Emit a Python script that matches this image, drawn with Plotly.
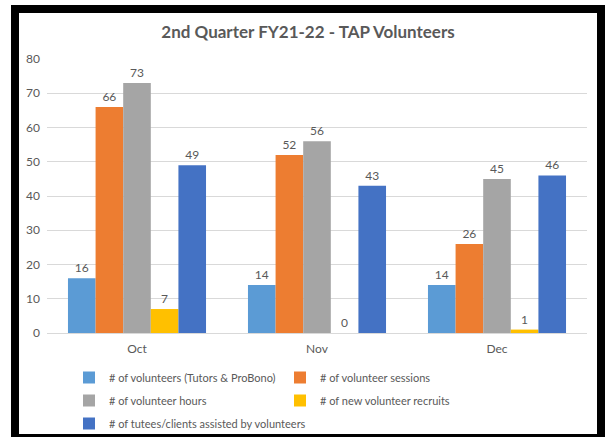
import plotly.graph_objects as go

months = ["Oct", "Nov", "Dec"]
series_names = [
    "# of volunteers (Tutors & ProBono)",
    "# of volunteer sessions",
    "# of volunteer hours",
    "# of new volunteer recruits",
    "# of tutees/clients assisted by volunteers",
]
volunteers = [16, 14, 14]
sessions = [66, 52, 26]
hours = [73, 56, 45]
recruits = [7, 0, 1]
tutees = [49, 43, 46]
colors = ["#5B9BD5", "#ED7D31", "#A5A5A5", "#FFC000", "#4472C4"]
legend_ids = ["legend", "legend2", "legend", "legend2", "legend"]

series_values = [volunteers, sessions, hours, recruits, tutees]

W, H = 608, 437
L, R, T, B = 47, 21, 59, 104
pw, ph = W - L - R, H - T - B


def px_x(p):
    return (p - L) / pw


def px_y(p):
    return (H - B - p) / ph


font_family = "Lato, Carlito, Calibri, sans-serif"
txt_color = "#595959"

fig = go.Figure()
for i, (name, vals, c, lg) in enumerate(zip(series_names, series_values, colors, legend_ids)):
    fig.add_trace(go.Bar(
        x=months, y=vals, name=name, marker_color=c, marker_line_width=0,
        text=[str(v) for v in vals], textposition="outside",
        textfont=dict(size=12, color=txt_color, family=font_family),
        cliponaxis=False, legend=lg, legendgroup="g%d" % i,
    ))

legend_common = dict(orientation="v", yanchor="top", xanchor="left",
                     font=dict(size=11, color=txt_color, family=font_family),
                     bgcolor="rgba(0,0,0,0)", itemwidth=30, tracegroupgap=4,
                     borderwidth=0)

fig.update_layout(
    width=W, height=H,
    margin=dict(l=L, r=R, t=T, b=B, autoexpand=False),
    paper_bgcolor="white", plot_bgcolor="white",
    barmode="group", bargap=0.233, bargroupgap=0,
    title=dict(text="<b>2nd Quarter FY21-22 - TAP Volunteers</b>",
               x=px_x(308), xref="paper", xanchor="center",
               y=1 - 32 / H, yanchor="middle",
               font=dict(size=17, color=txt_color, family=font_family)),
    font=dict(family=font_family, size=12, color=txt_color),
    showlegend=True,
    legend=dict(x=px_x(69), y=px_y(363), **legend_common),
    legend2=dict(x=px_x(280), y=px_y(363), **legend_common),
    xaxis=dict(showgrid=False, showline=True, linecolor="#D9D9D9", linewidth=1,
               ticks="", ticklabelstandoff=5,
               tickfont=dict(size=12, color=txt_color)),
    yaxis=dict(range=[0, 80], dtick=10, showgrid=True, gridcolor="#D9D9D9",
               gridwidth=1, zeroline=False, showline=False, ticks="",
               ticklabelstandoff=6,
               tickfont=dict(size=12, color=txt_color)),
)

fig.add_shape(type="rect", xref="paper", yref="paper",
              x0=px_x(15), x1=px_x(601), y0=px_y(438), y1=px_y(9),
              line=dict(color="black", width=8), fillcolor="rgba(0,0,0,0)",
              layer="above")

fig.write_html("out.html",
               config={"displayModeBar": False},
               post_script="document.body.style.margin='0';document.body.style.overflow='hidden';")
